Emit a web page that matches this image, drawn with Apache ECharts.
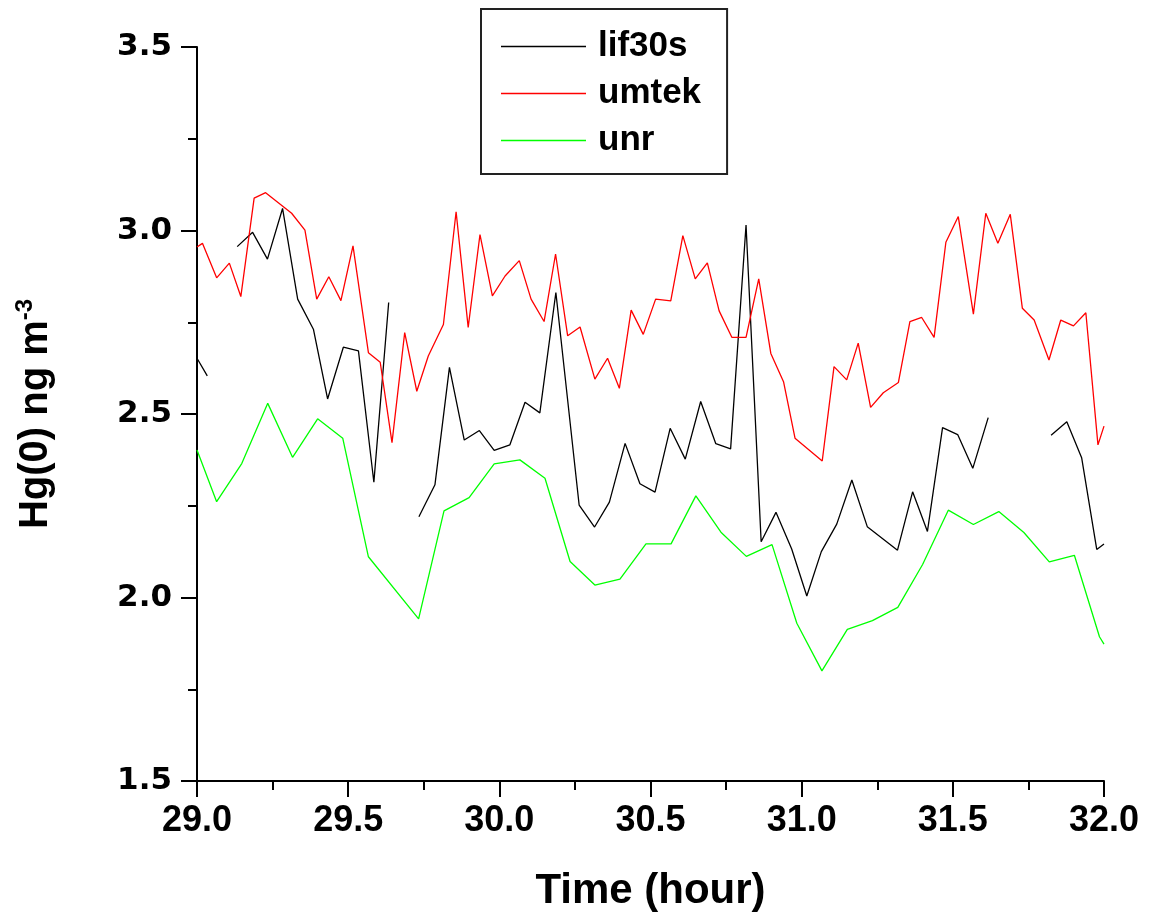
<!DOCTYPE html>
<html>
<head>
<meta charset="utf-8">
<script src="https://cdn.jsdelivr.net/npm/echarts@6/dist/echarts.min.js"></script>
<style>html,body{margin:0;padding:0;background:#fff}#c{width:1155px;height:921px}</style>
</head>
<body>
<div id="c"></div>
<script>
// ---- data ----
const seriesNames = ['lif30s', 'umtek', 'unr'];
const xTicks = [29.0, 29.5, 30.0, 30.5, 31.0, 31.5, 32.0];
const yTicks = [1.5, 2.0, 2.5, 3.0, 3.5];

const lifTime = [29.0, 29.034, 29.08, 29.133, 29.184, 29.233, 29.283, 29.333, 29.385, 29.432, 29.484, 29.534, 29.585, 29.634, 29.68, 29.734, 29.787, 29.835, 29.884, 29.934, 29.983, 30.035, 30.085, 30.134, 30.187, 30.264, 30.315, 30.364, 30.416, 30.465, 30.515, 30.565, 30.615, 30.666, 30.716, 30.765, 30.816, 30.866, 30.915, 30.967, 31.017, 31.065, 31.116, 31.166, 31.217, 31.317, 31.367, 31.416, 31.466, 31.516, 31.566, 31.617, 31.72, 31.825, 31.877, 31.926, 31.976, 32.0];
const lifValue = [2.652, 2.604, null, 2.956, 2.995, 2.922, 3.060, 2.813, 2.731, 2.541, 2.682, 2.672, 2.314, 2.804, null, 2.220, 2.307, 2.627, 2.429, 2.455, 2.401, 2.416, 2.532, 2.503, 2.831, 2.252, 2.192, 2.260, 2.420, 2.310, 2.287, 2.461, 2.377, 2.534, 2.419, 2.405, 3.015, 2.152, 2.232, 2.132, 2.004, 2.125, 2.200, 2.320, 2.193, 2.129, 2.288, 2.180, 2.463, 2.444, 2.352, 2.490, null, 2.442, 2.479, 2.381, 2.131, 2.146];

const umtekTime = [29.0, 29.018, 29.065, 29.107, 29.145, 29.189, 29.227, 29.313, 29.357, 29.396, 29.436, 29.476, 29.516, 29.567, 29.606, 29.645, 29.687, 29.727, 29.765, 29.815, 29.857, 29.897, 29.936, 29.977, 30.019, 30.066, 30.105, 30.148, 30.186, 30.226, 30.267, 30.316, 30.358, 30.397, 30.436, 30.476, 30.517, 30.567, 30.607, 30.648, 30.688, 30.727, 30.769, 30.816, 30.858, 30.898, 30.940, 30.978, 31.068, 31.107, 31.149, 31.187, 31.228, 31.270, 31.320, 31.358, 31.397, 31.438, 31.477, 31.518, 31.568, 31.609, 31.649, 31.690, 31.730, 31.769, 31.818, 31.857, 31.899, 31.940, 31.980, 32.0];
const umtekValue = [2.955, 2.965, 2.871, 2.911, 2.820, 3.088, 3.103, 3.047, 3.001, 2.813, 2.874, 2.809, 2.958, 2.667, 2.641, 2.422, 2.722, 2.562, 2.658, 2.744, 3.051, 2.736, 2.989, 2.822, 2.876, 2.918, 2.813, 2.752, 2.936, 2.713, 2.737, 2.595, 2.652, 2.570, 2.783, 2.717, 2.813, 2.808, 2.986, 2.868, 2.912, 2.781, 2.709, 2.709, 2.868, 2.665, 2.588, 2.434, 2.372, 2.629, 2.593, 2.693, 2.518, 2.558, 2.586, 2.752, 2.763, 2.709, 2.968, 3.038, 2.772, 3.047, 2.965, 3.044, 2.788, 2.756, 2.647, 2.756, 2.740, 2.776, 2.416, 2.467];

const unrTime = [29.0, 29.065, 29.148, 29.234, 29.316, 29.399, 29.482, 29.567, 29.733, 29.817, 29.900, 29.983, 30.068, 30.151, 30.234, 30.316, 30.399, 30.485, 30.568, 30.650, 30.733, 30.817, 30.902, 30.984, 31.067, 31.151, 31.234, 31.318, 31.400, 31.485, 31.568, 31.652, 31.735, 31.819, 31.902, 31.985, 32.0];
const unrValue = [2.402, 2.261, 2.365, 2.529, 2.382, 2.487, 2.434, 2.111, 1.942, 2.236, 2.272, 2.364, 2.375, 2.325, 2.098, 2.034, 2.050, 2.146, 2.146, 2.277, 2.178, 2.112, 2.144, 1.930, 1.800, 1.913, 1.937, 1.973, 2.090, 2.238, 2.199, 2.234, 2.177, 2.097, 2.115, 1.893, 1.873];

// ---- chart ----
const FONT = '"Liberation Sans", Arial, sans-serif';
const WIDE = '"DejaVu Sans", Verdana, sans-serif';
const pairs = (t, v) => t.map((x, i) => [x, v[i] === null ? '-' : v[i]]);
const colors = ['#000000', '#ff0000', '#00ff00'];

const chart = echarts.init(document.getElementById('c'), null, {renderer: 'canvas'});
const axisCommon = {
  axisLine: {show: true, onZero: false, lineStyle: {color: '#000', width: 2}},
  axisTick: {show: true, inside: false, length: 16, lineStyle: {color: '#000', width: 2}},
  minorTick: {show: true, splitNumber: 2, length: 9, lineStyle: {color: '#000', width: 2}},
  splitLine: {show: false},
  minorSplitLine: {show: false}
};
chart.setOption({
  animation: false,
  backgroundColor: '#fff',
  color: colors,
  grid: {left: 197, right: 51, top: 47, bottom: 140, containLabel: false},
  legend: {
    data: seriesNames,
    orient: 'vertical',
    left: 481, top: 9,
    icon: 'rect',
    itemWidth: 85, itemHeight: 1.5,
    itemGap: 12,
    padding: [20, 26, 16, 20],
    borderColor: '#222', borderWidth: 2,
    textStyle: {fontFamily: FONT, fontSize: 35, fontWeight: 'bold', color: '#000', lineHeight: 35, padding: [0, 0, 0, 7]}
  },
  xAxis: Object.assign({
    type: 'value', min: 29, max: 32, interval: 0.5,
    name: 'Time (hour)', nameLocation: 'middle', nameGap: 89,
    nameTextStyle: {fontFamily: FONT, fontSize: 42, fontWeight: 'bold', color: '#000'},
    axisLabel: {margin: 22, fontFamily: FONT, fontSize: 36, fontWeight: 'bold', color: '#000',
      formatter: v => xTicks.includes(+v.toFixed(1)) ? v.toFixed(1) : ''}
  }, axisCommon),
  yAxis: Object.assign({
    type: 'value', min: 1.5, max: 3.5, interval: 0.5,
    name: '{a|Hg(0) ng m}{b|-3}', nameLocation: 'middle', nameGap: 138, nameRotate: 90,
    nameTextStyle: {fontFamily: FONT, fontSize: 40, fontWeight: 'bold', color: '#000',
      rich: {
        a: {fontFamily: FONT, fontSize: 40, fontWeight: 'bold', color: '#000', lineHeight: 46},
        b: {fontFamily: FONT, fontSize: 24, fontWeight: 'bold', color: '#000', verticalAlign: 'top', lineHeight: 18}
      }},
    axisLabel: {margin: 25, fontFamily: WIDE, fontSize: 31, fontWeight: 'bold', color: '#000',
      formatter: v => yTicks.includes(+v.toFixed(1)) ? v.toFixed(1) : ''}
  }, axisCommon),
  series: [
    {name: seriesNames[0], type: 'line', data: pairs(lifTime, lifValue), showSymbol: false, connectNulls: false,
      lineStyle: {color: colors[0], width: 1.3}, itemStyle: {color: colors[0]}},
    {name: seriesNames[1], type: 'line', data: pairs(umtekTime, umtekValue), showSymbol: false,
      lineStyle: {color: colors[1], width: 1.3}, itemStyle: {color: colors[1]}},
    {name: seriesNames[2], type: 'line', data: pairs(unrTime, unrValue), showSymbol: false,
      lineStyle: {color: colors[2], width: 1.3}, itemStyle: {color: colors[2]}}
  ]
});
</script>
</body>
</html>
